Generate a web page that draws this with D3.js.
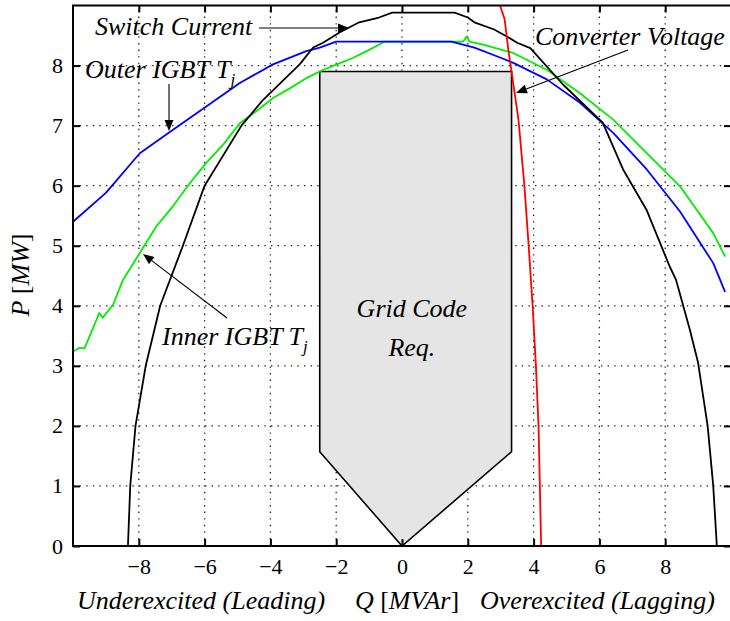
<!DOCTYPE html>
<html>
<head>
<meta charset="utf-8">
<script src="https://cdn.jsdelivr.net/npm/d3@7"></script>
<style>
  html, body { margin: 0; padding: 0; background: #fff; }
</style>
</head>
<body>
<svg id="chart" width="730" height="621"></svg>
<script>
// Operating-limit curves in the P-Q plane (Q in MVAr, P in MW)
const switchCurrent = [
  [-8.33, 0], [-8.26, 1.0], [-8.1, 2.0], [-7.79, 3.0], [-7.35, 4.0], [-6.66, 5.0],
  [-6.0, 6.0], [-4.88, 7.0], [-4.22, 7.43], [-3.11, 8.02], [-2.7, 8.3], [-2.4, 8.38],
  [-1.9, 8.55], [-1.3, 8.72], [-0.7, 8.8], [-0.3, 8.88], [1.6, 8.88], [2.0, 8.8],
  [2.2, 8.72], [2.8, 8.6], [3.2, 8.48], [3.5, 8.38], [3.9, 8.29], [4.9, 7.68],
  [6.1, 7.05], [6.72, 6.27], [7.43, 5.6], [8.14, 4.65], [8.33, 4.43], [8.75, 3.6],
  [9.0, 3.05], [9.29, 2.0], [9.46, 1.0], [9.57, 0]
];
const outerIgbt = [
  [-10, 5.4], [-9, 5.88], [-7.97, 6.54], [-6.96, 6.93], [-5.95, 7.32], [-4.93, 7.71],
  [-3.92, 8.02], [-2.91, 8.24], [-2.5, 8.3], [-2.0, 8.4], [1.5, 8.4], [2.2, 8.3],
  [3.0, 8.13], [3.4, 8.04], [4.4, 7.77], [5.41, 7.38], [6.42, 6.88], [7.44, 6.27],
  [8.45, 5.57], [9.46, 4.71], [9.82, 4.23]
];
const innerIgbt = [
  [-10, 3.24], [-9.8, 3.3], [-9.65, 3.29], [-9.2, 3.88], [-9.1, 3.8], [-8.78, 4.02],
  [-8.48, 4.43], [-7.97, 4.88], [-7.47, 5.32], [-6.96, 5.66], [-6.45, 6.04], [-5.95, 6.38],
  [-5.44, 6.68], [-4.93, 7.04], [-4.43, 7.24], [-3.92, 7.46], [-3.41, 7.62], [-2.91, 7.79],
  [-2.39, 7.93], [-1.98, 8.02], [-1.48, 8.13], [-0.97, 8.27], [-0.52, 8.4], [1.86, 8.4],
  [1.97, 8.49], [2.05, 8.4], [2.47, 8.35], [2.98, 8.27], [3.38, 8.21], [4.4, 7.93],
  [5.41, 7.54], [6.42, 7.1], [7.44, 6.54], [8.45, 5.99], [9.46, 5.21], [9.82, 4.82]
];
const converterVoltage = [
  [2.98, 9.0], [3.12, 8.77], [3.23, 8.27], [3.33, 7.9], [3.54, 7.1], [3.72, 6.0],
  [3.85, 5.0], [3.97, 4.0], [4.07, 3.0], [4.15, 2.0], [4.19, 1.0], [4.23, 0]
];
// Grid code requirement area
const gridCode = [[-2.5, 1.57], [-2.5, 7.9], [3.33, 7.9], [3.33, 1.57], [0, 0]];

const xTicks = [-8, -6, -4, -2, 0, 2, 4, 6, 8];
const yTicks = [0, 1, 2, 3, 4, 5, 6, 7, 8];

const SERIF = "'Liberation Serif', 'Times New Roman', Times, 'DejaVu Serif', serif";

const svg = d3.select("#chart");
const L = 73, R = 731, T = 5.5, B = 546;
const x = d3.scaleLinear().domain([-10, 10]).range([L, R]);
const y = d3.scaleLinear().domain([0, 9]).range([B, T]);

svg.append("defs").append("clipPath").attr("id", "plot")
  .append("rect").attr("x", L).attr("y", T).attr("width", R - L).attr("height", B - T);

// dotted grid
const grid = svg.append("g").attr("stroke", "#222").attr("stroke-width", 1.3)
  .attr("stroke-dasharray", "1.4,5.2");
grid.selectAll(".gx").data(xTicks).join("line")
  .attr("x1", d => x(d)).attr("x2", d => x(d)).attr("y1", B).attr("y2", T);
grid.selectAll(".gy").data(yTicks.filter(d => d > 0)).join("line")
  .attr("y1", d => y(d)).attr("y2", d => y(d)).attr("x1", L).attr("x2", R);

const plot = svg.append("g").attr("clip-path", "url(#plot)");

plot.append("path")
  .attr("d", d3.line().x(d => x(d[0])).y(d => y(d[1]))(gridCode) + "Z")
  .attr("fill", "#e5e5e5").attr("stroke", "#000").attr("stroke-width", 1.6);

const line = d3.line().x(d => x(d[0])).y(d => y(d[1]));
const series = [
  [innerIgbt, "#00ee00"],
  [outerIgbt, "#0000ff"],
  [switchCurrent, "#000000"],
  [converterVoltage, "#ff0000"]
];
series.forEach(([data, color]) => {
  plot.append("path").attr("d", line(data)).attr("fill", "none")
    .attr("stroke", color).attr("stroke-width", 1.8).attr("stroke-linejoin", "round");
});

// axes with inward ticks on all four sides
function styleAxis(g) {
  g.attr("font-family", null).attr("font-size", null);
  g.select(".domain").remove();
  g.selectAll(".tick line").attr("stroke", "#000").attr("stroke-width", 2);
  g.selectAll("text").style("font-family", SERIF).style("font-size", "22px").attr("fill", "#000");
}
svg.append("g").attr("transform", `translate(0,${B})`)
  .call(d3.axisBottom(x).tickValues(xTicks).tickSize(-7).tickPadding(12))
  .call(styleAxis);
svg.append("g").attr("transform", `translate(0,${T})`)
  .call(d3.axisTop(x).tickValues(xTicks).tickSize(-7).tickFormat(""))
  .call(styleAxis);
svg.append("g").attr("transform", `translate(${L},0)`)
  .call(d3.axisLeft(y).tickValues(yTicks).tickSize(-7).tickPadding(10))
  .call(styleAxis);
svg.append("g").attr("transform", `translate(${R},0)`)
  .call(d3.axisRight(y).tickValues(yTicks).tickSize(-7).tickFormat(""))
  .call(styleAxis);

svg.append("rect").attr("x", L).attr("y", T).attr("width", R - L).attr("height", B - T)
  .attr("fill", "none").attr("stroke", "#000").attr("stroke-width", 2);

// axis titles
const FS = 26;
function txt(sel) { return sel.style("font-family", SERIF).style("font-size", FS + "px"); }
txt(svg.append("text")).attr("x", 77).attr("y", 609)
  .style("font-style", "italic").text("Underexcited (Leading)");
const qLab = txt(svg.append("text")).attr("x", 407).attr("y", 609).attr("text-anchor", "middle");
qLab.append("tspan").style("font-style", "italic").text("Q");
qLab.append("tspan").text(" [");
qLab.append("tspan").style("font-style", "italic").text("MVAr");
qLab.append("tspan").text("]");
txt(svg.append("text")).attr("x", 715).attr("y", 609).attr("text-anchor", "end")
  .style("font-style", "italic").text("Overexcited (Lagging)");

const pLab = txt(svg.append("text")).attr("transform", "translate(29,275) rotate(-90)")
  .attr("text-anchor", "middle");
pLab.append("tspan").style("font-style", "italic").text("P");
pLab.append("tspan").text(" [");
pLab.append("tspan").style("font-style", "italic").text("MW");
pLab.append("tspan").text("]");

// curve annotations
function label(tx, ty, main, sub) {
  const t = txt(svg.append("text")).attr("x", tx).attr("y", ty).style("font-style", "italic");
  t.append("tspan").text(main);
  if (sub) t.append("tspan").attr("dy", 7).style("font-size", "17px").text(sub);
}
label(95, 35, "Switch Current");
label(85, 78, "Outer IGBT T", "j");
label(535, 45, "Converter Voltage");
label(162, 345, "Inner IGBT T", "j");

const gc = svg.append("g").attr("text-anchor", "middle");
txt(gc.append("text")).style("font-style", "italic").attr("x", x(0.3)).attr("y", 317).text("Grid Code");
txt(gc.append("text")).style("font-style", "italic").attr("x", x(0.3)).attr("y", 356).text("Req.");

function arrow(x1, y1, x2, y2) {
  const a = Math.atan2(y2 - y1, x2 - x1), len = 11, w = 4.5;
  const bx = x2 - len * Math.cos(a), by = y2 - len * Math.sin(a);
  svg.append("line").attr("x1", x1).attr("y1", y1).attr("x2", bx).attr("y2", by)
    .attr("stroke", "#000").attr("stroke-width", 1.1);
  const px = -Math.sin(a) * w, py = Math.cos(a) * w;
  svg.append("path")
    .attr("d", `M${x2},${y2}L${bx + px},${by + py}L${bx - px},${by - py}Z`)
    .attr("fill", "#000");
}
arrow(259, 28, 349, 28);
arrow(169, 84, 169, 131);
arrow(628, 50, 516, 93);
arrow(227, 318, 143, 254);
</script>
</body>
</html>
